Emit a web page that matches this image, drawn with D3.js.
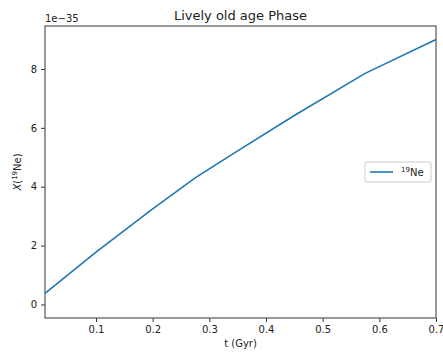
<!DOCTYPE html>
<html>
<head>
<meta charset="utf-8">
<script src="https://cdn.jsdelivr.net/npm/d3@7"></script>
<style>
  body { margin: 0; background: #fff; }
  text { font-family: "DejaVu Sans", sans-serif; fill: #222; }
</style>
</head>
<body>
<script>
// abundance of 19Ne over time (units of 1e-35)
var tGyr = [0.01, 0.1, 0.2, 0.275, 0.35, 0.45, 0.575, 0.7];
var xNe = [0.38, 1.78, 3.25, 4.3, 5.22, 6.42, 7.85, 9.0];
var xTicks = [0.1, 0.2, 0.3, 0.4, 0.5, 0.6, 0.7];
var yTicks = [0, 2, 4, 6, 8];

var w = 443, h = 358;
var margin = {top: 26, right: 7, bottom: 40, left: 45};
var iw = w - margin.left - margin.right;
var ih = h - margin.top - margin.bottom;

var svg = d3.select("body").append("svg")
  .attr("width", w)
  .attr("height", h);

var g = svg.append("g")
  .attr("transform", "translate(" + margin.left + "," + margin.top + ")");

var x = d3.scaleLinear().domain([0.01, 0.7]).range([0, iw]);
var y = d3.scaleLinear().domain([-0.46, 9.46]).range([ih, 0]);

// axes
var xAxis = g.append("g")
  .attr("transform", "translate(0," + ih + ")")
  .call(d3.axisBottom(x).tickValues(xTicks).tickFormat(d3.format(".1f")).tickSizeOuter(0).tickSize(4).tickPadding(4));
var yAxis = g.append("g")
  .call(d3.axisLeft(y).tickValues(yTicks).tickFormat(d3.format("d")).tickSizeOuter(0).tickSize(4).tickPadding(4));

[xAxis, yAxis].forEach(function(a) {
  a.selectAll("text").style("font-size", "10px").style("fill", "#222");
  a.selectAll("line").attr("stroke", "#333");
  a.select(".domain").remove();
});

// frame
g.append("rect")
  .attr("width", iw)
  .attr("height", ih)
  .attr("fill", "none")
  .attr("stroke", "#555")
  .attr("stroke-width", 1.2);

// curve
var line = d3.line()
  .x(function(d, i) { return x(tGyr[i]); })
  .y(function(d) { return y(d); });

g.append("path")
  .datum(xNe)
  .attr("d", line)
  .attr("fill", "none")
  .attr("stroke", "#1f77b4")
  .attr("stroke-width", 1.6);

// title and labels
svg.append("text")
  .attr("x", margin.left + iw / 2)
  .attr("y", 20)
  .attr("text-anchor", "middle")
  .style("font-size", "13px")
  .text("Lively old age Phase");

svg.append("text")
  .attr("x", margin.left)
  .attr("y", 22)
  .style("font-size", "10px")
  .text("1e\u221235");

svg.append("text")
  .attr("x", margin.left + iw / 2)
  .attr("y", 347)
  .attr("text-anchor", "middle")
  .style("font-size", "10px")
  .text("t (Gyr)");

var yl = svg.append("text")
  .attr("transform", "translate(21," + (margin.top + ih / 2) + ") rotate(-90)")
  .attr("text-anchor", "middle")
  .style("font-size", "10px");
yl.append("tspan").style("font-style", "italic").text("X");
yl.append("tspan").text("(");
yl.append("tspan").attr("dy", -4).style("font-size", "7px").text("19");
yl.append("tspan").attr("dy", 4).text("Ne)");

// legend
var lg = svg.append("g").attr("transform", "translate(365,162)");
lg.append("rect")
  .attr("width", 66)
  .attr("height", 20)
  .attr("rx", 2)
  .attr("fill", "#fff")
  .attr("stroke", "#ccc");
lg.append("line")
  .attr("x1", 5).attr("x2", 28)
  .attr("y1", 10).attr("y2", 10)
  .attr("stroke", "#1f77b4")
  .attr("stroke-width", 1.6);
var lt = lg.append("text")
  .attr("x", 36)
  .attr("y", 14)
  .style("font-size", "10px");
lt.append("tspan").attr("dy", -4).style("font-size", "7px").text("19");
lt.append("tspan").attr("dy", 4).text("Ne");
</script>
</body>
</html>
